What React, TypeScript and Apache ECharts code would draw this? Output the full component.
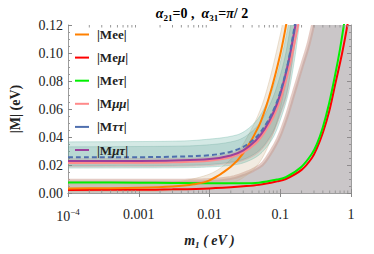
import React, { useEffect, useRef } from 'react';
import * as echarts from 'echarts';

const SERIF = '"Liberation Serif", "Times New Roman", serif';

// axis ranges / ticks
const xMin = 1e-4;
const xMax = 1;
const yMin = 0;
const yMax = 0.12;
const yStep = 0.02;
const xTickLabels: Record<number, string> = { [-4]: '{b|10}{sup|−4}', [-3]: '0.001', [-2]: '0.01', [-1]: '0.1', [0]: '1' };
const xMinorTicks = [
  2e-4, 3e-4, 4e-4, 5e-4, 6e-4, 7e-4, 8e-4, 9e-4,
  2e-3, 3e-3, 4e-3, 5e-3, 6e-3, 7e-3, 8e-3, 9e-3,
  2e-2, 3e-2, 4e-2, 5e-2, 6e-2, 7e-2, 8e-2, 9e-2,
  0.2, 0.3, 0.4, 0.5, 0.6, 0.7, 0.8, 0.9,
];

const legendNames = ['|Mee|', '|Meμ|', '|Meτ|', '|Mμμ|', '|Mττ|', '|Mμτ|'];
const lineColors = ['#ff8000', '#ff0000', '#00f000', '#ff8a8a', '#4f6fae', '#9b3f9b'];

// central curves (m1 in eV, |M| in eV)
const meeM1 = [1e-4, 3e-4, 1e-3, 3e-3, 6e-3, 0.01, 0.02, 0.03, 0.05, 0.07, 0.1, 0.125];
const meeVal = [0.0033, 0.0034, 0.0037, 0.0046, 0.0062, 0.009, 0.0188, 0.0285, 0.048, 0.069, 0.099, 0.124];

const meuM1 = [1e-4, 1e-3, 3e-3, 0.01, 0.03, 0.05, 0.09, 0.12, 0.2, 0.28, 0.33, 0.4, 0.49, 0.6, 0.75, 0.92];
const meuVal = [0.0022, 0.0023, 0.0026, 0.0033, 0.0048, 0.0058, 0.0083, 0.01, 0.0165, 0.025, 0.032, 0.043, 0.058, 0.078, 0.1, 0.124];

const metM1 = [1e-4, 1e-3, 3e-3, 0.01, 0.03, 0.05, 0.09, 0.12, 0.2, 0.28, 0.33, 0.4, 0.49, 0.6, 0.7, 0.81];
const metVal = [0.0075, 0.0074, 0.0072, 0.0069, 0.0069, 0.0074, 0.0096, 0.0113, 0.0188, 0.028, 0.035, 0.047, 0.064, 0.085, 0.103, 0.123];

const mmmM1 = [1e-4, 1e-3, 3e-3, 0.01, 0.02, 0.03, 0.045, 0.06, 0.08, 0.1, 0.13, 0.17, 0.185];
const mmmVal = [0.0215, 0.0216, 0.0219, 0.023, 0.0255, 0.029, 0.0355, 0.0435, 0.0545, 0.0665, 0.087, 0.114, 0.124];

const mttM1 = [1e-4, 1e-3, 3e-3, 0.01, 0.02, 0.03, 0.045, 0.06, 0.08, 0.1, 0.13, 0.165];
const mttVal = [0.0255, 0.0256, 0.0259, 0.027, 0.0295, 0.033, 0.0395, 0.0475, 0.059, 0.072, 0.094, 0.124];

const mmtM1 = [1e-4, 1e-3, 3e-3, 0.01, 0.02, 0.03, 0.045, 0.06, 0.08, 0.1, 0.13, 0.168];
const mmtVal = [0.0228, 0.0229, 0.0232, 0.0242, 0.0268, 0.0305, 0.0375, 0.0455, 0.0575, 0.0705, 0.093, 0.123];

// 3-sigma bands
const greyUpM1 = [1e-4, 3e-3, 0.01, 0.02, 0.032, 0.045, 0.06, 0.09, 0.12, 0.15, 0.2, 0.25, 0.3];
const greyUpVal = [0.0088, 0.0088, 0.0092, 0.0108, 0.014, 0.0175, 0.0225, 0.037, 0.053, 0.069, 0.09, 0.106, 0.123];

const meeUpM1 = [1e-4, 1e-3, 3e-3, 0.01, 0.02, 0.03, 0.05, 0.07, 0.1, 0.11];
const meeUpVal = [0.0062, 0.0064, 0.0075, 0.0135, 0.024, 0.035, 0.057, 0.08, 0.113, 0.124];
const meeLoM1 = [1e-4, 1e-3, 3e-3, 0.01, 0.02, 0.03, 0.045, 0.06, 0.08, 0.1, 0.13, 0.165];
const meeLoVal = [0.0008, 0.001, 0.0016, 0.004, 0.007, 0.011, 0.0185, 0.028, 0.043, 0.06, 0.088, 0.124];

const pinkUpM1 = [1e-4, 3e-3, 0.01, 0.02, 0.03, 0.045, 0.06, 0.08, 0.1, 0.13, 0.165];
const pinkUpVal = [0.0245, 0.0248, 0.0258, 0.0285, 0.0322, 0.0395, 0.048, 0.06, 0.073, 0.096, 0.124];
const pinkLoM1 = [1e-4, 3e-3, 0.01, 0.02, 0.03, 0.045, 0.06, 0.08, 0.1, 0.13, 0.182];
const pinkLoVal = [0.0188, 0.019, 0.0196, 0.0212, 0.0232, 0.0275, 0.0335, 0.043, 0.0555, 0.075, 0.124];

const tealOutUpM1 = [1e-4, 3e-3, 0.01, 0.02, 0.03, 0.045, 0.06, 0.08, 0.1, 0.12, 0.135];
const tealOutUpVal = [0.0365, 0.037, 0.0385, 0.0405, 0.0435, 0.051, 0.061, 0.076, 0.093, 0.111, 0.124];
const tealOutLoM1 = [1e-4, 3e-3, 0.01, 0.02, 0.03, 0.045, 0.06, 0.08, 0.1, 0.13, 0.16, 0.19];
const tealOutLoVal = [0.0178, 0.018, 0.0186, 0.0198, 0.0215, 0.0255, 0.031, 0.04, 0.052, 0.071, 0.096, 0.124];

const tealInUpM1 = [1e-4, 3e-3, 0.01, 0.02, 0.03, 0.045, 0.06, 0.08, 0.1, 0.12, 0.145];
const tealInUpVal = [0.033, 0.0334, 0.0345, 0.0365, 0.0395, 0.0465, 0.0555, 0.069, 0.084, 0.1, 0.124];
const tealInLoM1 = [1e-4, 3e-3, 0.01, 0.02, 0.03, 0.045, 0.06, 0.08, 0.1, 0.13, 0.178];
const tealInLoVal = [0.0195, 0.0197, 0.0204, 0.022, 0.024, 0.0285, 0.0345, 0.0445, 0.057, 0.077, 0.124];

const zip = (a: number[], b: number[]) => a.map((v, i) => [v, b[i]]);

function spline(pts: number[][], seg = 10): number[][] {
  if (pts.length < 3) return pts.slice();
  const out: number[][] = [];
  const n = pts.length;
  for (let i = 0; i < n - 1; i++) {
    const p0 = pts[Math.max(i - 1, 0)];
    const p1 = pts[i];
    const p2 = pts[i + 1];
    const p3 = pts[Math.min(i + 2, n - 1)];
    for (let t = 0; t < seg; t++) {
      const s = t / seg;
      const s2 = s * s;
      const s3 = s2 * s;
      const f = (k: number) =>
        0.5 * (2 * p1[k] + (-p0[k] + p2[k]) * s + (2 * p0[k] - 5 * p1[k] + 4 * p2[k] - p3[k]) * s2 + (-p0[k] + 3 * p1[k] - 3 * p2[k] + p3[k]) * s3);
      out.push([f(0), f(1)]);
    }
  }
  out.push(pts[n - 1]);
  return out;
}

type Band = {
  up: number[][];
  lo: number[][];
  fill: string;
  stroke: string;
  strokeWidth: number;
  extendRight?: boolean;
  z: number;
};

const bands: Band[] = [
  {
    up: zip(greyUpM1, greyUpVal),
    lo: [[xMin, yMin], [xMax, yMin]],
    fill: 'rgba(150,141,146,0.5)',
    stroke: 'rgba(205,160,150,0.55)',
    strokeWidth: 4,
    extendRight: true,
    z: 1,
  },
  { up: zip(meeUpM1, meeUpVal), lo: zip(meeLoM1, meeLoVal), fill: 'rgba(205,175,135,0.25)', stroke: 'rgba(205,175,135,0.45)', strokeWidth: 0.8, z: 2 },
  { up: zip(pinkUpM1, pinkUpVal), lo: zip(pinkLoM1, pinkLoVal), fill: 'rgba(255,120,120,0.22)', stroke: 'rgba(255,120,120,0.35)', strokeWidth: 0.8, z: 2 },
  { up: zip(tealOutUpM1, tealOutUpVal), lo: zip(tealOutLoM1, tealOutLoVal), fill: 'rgba(100,175,160,0.28)', stroke: 'rgba(100,175,160,0.4)', strokeWidth: 0.8, z: 2 },
  { up: zip(tealInUpM1, tealInUpVal), lo: zip(tealInLoM1, tealInLoVal), fill: 'rgba(80,150,140,0.2)', stroke: 'rgba(80,150,140,0.3)', strokeWidth: 0.8, z: 2 },
];

function bandSeries(b: Band) {
  return {
    type: 'custom',
    coordinateSystem: 'cartesian2d',
    xAxisIndex: 0,
    yAxisIndex: 0,
    clip: true,
    silent: true,
    z: b.z,
    data: [b.up[0]],
    renderItem: (_params: any, api: any) => {
      const upPx = spline(b.up.map((p) => api.coord(p)));
      const loPx = spline(b.lo.map((p) => api.coord(p)));
      let pts: number[][] = upPx.slice();
      if (b.extendRight) {
        pts.push(api.coord([xMax, b.up[b.up.length - 1][1]]));
      }
      pts = pts.concat(loPx.slice().reverse());
      return {
        type: 'group',
        children: [
          { type: 'polygon', shape: { points: pts }, style: { fill: b.fill, stroke: null } },
          { type: 'polyline', shape: { points: upPx }, style: { fill: null, stroke: b.stroke, lineWidth: b.strokeWidth } },
          ...(b.extendRight
            ? []
            : [{ type: 'polyline', shape: { points: loPx }, style: { fill: null, stroke: b.stroke, lineWidth: b.strokeWidth } }]),
        ],
      };
    },
  };
}

const lineDefs = [
  { name: legendNames[1], m1: meuM1, v: meuVal, color: lineColors[1], dash: 'solid' as any },
  { name: legendNames[2], m1: metM1, v: metVal, color: lineColors[2], dash: 'solid' as any },
  { name: legendNames[0], m1: meeM1, v: meeVal, color: lineColors[0], dash: 'solid' as any },
  { name: legendNames[3], m1: mmmM1, v: mmmVal, color: lineColors[3], dash: 'solid' as any },
  { name: legendNames[5], m1: mmtM1, v: mmtVal, color: lineColors[5], dash: 'solid' as any },
  { name: legendNames[4], m1: mttM1, v: mttVal, color: lineColors[4], dash: [5, 3] as any },
];

const greekRich = {
  b: { fontFamily: SERIF, fontWeight: 'bold', fontSize: 13, color: '#222', lineHeight: 12 },
  g: { fontFamily: SERIF, fontWeight: 'bold', fontStyle: 'italic', fontSize: 13, color: '#222', lineHeight: 12 },
};

function legendFmt(name: string) {
  return name
    .split('')
    .map((c) => (/[μτ]/.test(c) ? `{g|${c}}` : `{b|${c}}`))
    .join('');
}

export default function App() {
  const ref = useRef<HTMLDivElement>(null);
  useEffect(() => {
    const chart = echarts.init(ref.current!, null, { renderer: 'svg' });
    const frame = '#9c9c9c';
    const option: any = {
      animation: false,
      grid: { left: 54, right: 23, top: 25, bottom: 46 },
      graphic: [
        {
          type: 'text',
          x: 202,
          y: 13,
          z: 20,
          style: {
            text: '{a|α}{s|21}{n|=0 ,  }{a|α}{s|31}{n|=}{a|π}{n|/ 2}',
            align: 'center',
            verticalAlign: 'middle',
            rich: {
              a: { fontFamily: SERIF, fontSize: 14, fontWeight: 'bold', fontStyle: 'italic', color: '#222', lineHeight: 18, verticalAlign: 'middle' },
              n: { fontFamily: SERIF, fontSize: 14, fontWeight: 'bold', color: '#222', lineHeight: 18, verticalAlign: 'middle' },
              s: { fontFamily: SERIF, fontSize: 9, fontWeight: 'bold', color: '#222', lineHeight: 9, verticalAlign: 'bottom' },
            },
          },
        },
      ],
      legend: {
        orient: 'vertical',
        left: 70,
        top: 23,
        icon: 'rect',
        itemWidth: 14,
        itemHeight: 2,
        itemGap: 10.1,
        data: legendNames,
        formatter: legendFmt,
        textStyle: { fontFamily: SERIF, fontSize: 13, fontWeight: 'bold', color: '#222', lineHeight: 12, padding: [0, 0, 0, 3], rich: greekRich },
      },
      xAxis: [
        {
          type: 'log',
          logBase: 10,
          min: xMin,
          max: xMax,
          position: 'bottom',
          axisLine: { show: true, lineStyle: { color: frame, width: 1 } },
          axisTick: { show: true, inside: true, length: 4, lineStyle: { color: '#888' } },
          splitLine: { show: false },
          axisLabel: {
            margin: 14,
            fontFamily: SERIF,
            fontSize: 14,
            color: '#222',
            formatter: (v: number) => xTickLabels[Math.round(Math.log10(v))] ?? '',
            rich: {
              b: { fontFamily: SERIF, fontSize: 14, color: '#222', lineHeight: 16, verticalAlign: 'bottom' },
              sup: { fontFamily: SERIF, fontSize: 9, color: '#222', lineHeight: 9, verticalAlign: 'top' },
            },
          },
          name: '{m|m}{s|1}{m| ( eV )}',
          nameLocation: 'middle',
          nameGap: 38,
          nameTextStyle: {
            rich: {
              m: { fontFamily: SERIF, fontSize: 14, fontWeight: 'bold', fontStyle: 'italic', color: '#222', lineHeight: 18, verticalAlign: 'middle' },
              s: { fontFamily: SERIF, fontSize: 9, fontWeight: 'bold', fontStyle: 'italic', color: '#222', lineHeight: 9, verticalAlign: 'bottom' },
            },
          },
        },
        {
          type: 'log',
          logBase: 10,
          min: xMin,
          max: xMax,
          position: 'top',
          axisLine: { show: true, lineStyle: { color: frame, width: 1 } },
          axisTick: { show: true, inside: true, length: 4, lineStyle: { color: '#888' } },
          splitLine: { show: false },
          axisLabel: { show: false },
        },
      ],
      yAxis: [
        {
          type: 'value',
          min: yMin,
          max: yMax,
          interval: yStep,
          position: 'left',
          axisLine: { show: true, lineStyle: { color: frame, width: 1 } },
          axisTick: { show: true, inside: true, length: 4, lineStyle: { color: '#888' } },
          minorTick: { show: true, splitNumber: 4, length: 2, lineStyle: { color: '#999' } },
          splitLine: { show: false },
          axisLabel: { margin: 5, fontFamily: SERIF, fontSize: 14, color: '#222', formatter: (v: number) => v.toFixed(2) },
          name: '|M| (eV)',
          nameLocation: 'middle',
          nameRotate: 90,
          nameGap: 46,
          nameTextStyle: { fontFamily: SERIF, fontSize: 14, fontWeight: 'bold', color: '#222' },
        },
        {
          type: 'value',
          min: yMin,
          max: yMax,
          interval: yStep,
          position: 'right',
          axisLine: { show: true, lineStyle: { color: frame, width: 1 } },
          axisTick: { show: true, inside: true, length: 4, lineStyle: { color: '#888' } },
          minorTick: { show: true, splitNumber: 4, length: 2, lineStyle: { color: '#999' } },
          splitLine: { show: false },
          axisLabel: { show: false },
        },
      ],
      series: [
        ...bands.map(bandSeries),
        ...lineDefs.map((d) => ({
          type: 'line',
          name: d.name,
          xAxisIndex: 0,
          yAxisIndex: 0,
          data: zip(d.m1, d.v),
          smooth: 0.35,
          symbol: 'none',
          showSymbol: false,
          clip: true,
          z: 3,
          lineStyle: { color: d.color, width: 2, type: d.dash },
          itemStyle: { color: d.color },
        })),
        {
          type: 'custom',
          coordinateSystem: 'cartesian2d',
          xAxisIndex: 0,
          yAxisIndex: 0,
          silent: true,
          z: 6,
          data: xMinorTicks.map((v) => [v]),
          renderItem: (_p: any, api: any) => {
            const x = api.value(0);
            const b = api.coord([x, yMin]);
            const t = api.coord([x, yMax]);
            return {
              type: 'group',
              children: [
                { type: 'line', shape: { x1: b[0], y1: b[1], x2: b[0], y2: b[1] - 2.5 }, style: { stroke: '#999', lineWidth: 1 } },
                { type: 'line', shape: { x1: t[0], y1: t[1], x2: t[0], y2: t[1] + 2.5 }, style: { stroke: '#999', lineWidth: 1 } },
              ],
            };
          },
        },
      ],
    };
    chart.setOption(option);
    return () => chart.dispose();
  }, []);
  return <div ref={ref} style={{ position: 'absolute', left: 0, top: 0, width: 374, height: 254 }} />;
}
